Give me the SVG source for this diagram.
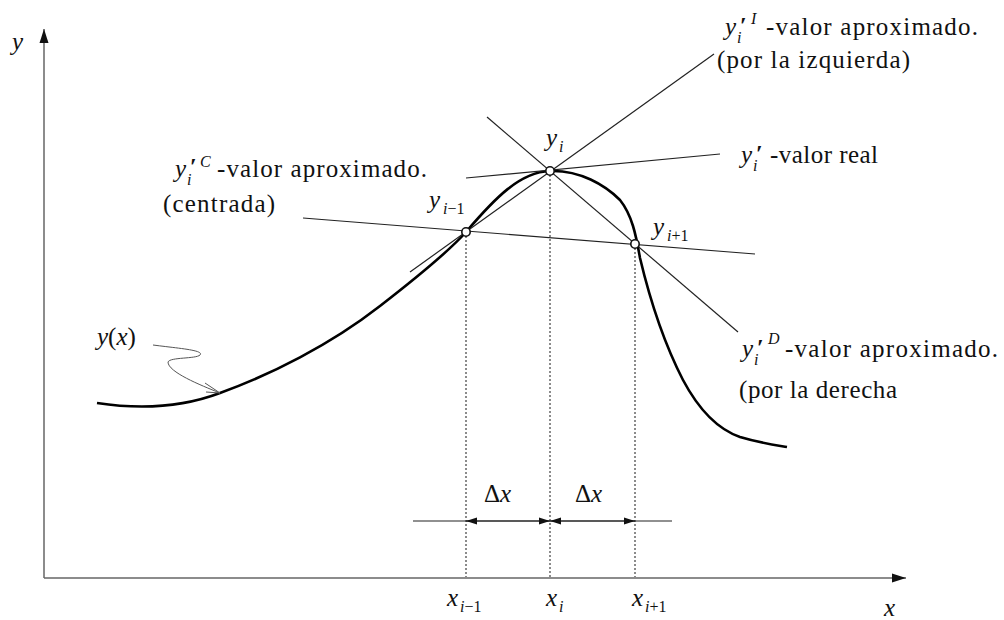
<svg xmlns="http://www.w3.org/2000/svg" width="1004" height="620" viewBox="0 0 1004 620">
<style>
.t{font-family:'Liberation Serif','DejaVu Serif',serif;font-size:25px;fill:#111}
.it{font-style:italic}
.s{font-family:'Liberation Serif','DejaVu Serif',serif;font-size:16px;fill:#111}
.sup{font-family:'Liberation Serif','DejaVu Serif',serif;font-size:16px;font-style:italic;fill:#111}
.pr{font-family:'Liberation Serif','DejaVu Serif',serif;font-size:24px;font-weight:bold;fill:#111}
.axis{stroke:#666;stroke-width:1.5;fill:none}
.tan{stroke:#222;stroke-width:1.2;fill:none}
.dot{stroke:#666;stroke-width:1.5;stroke-dasharray:2 2;fill:none}
.dim{stroke:#222;stroke-width:1.2;fill:none}
.pt{fill:#fff;stroke:#111;stroke-width:1.6}
</style>
<defs>
<marker id="ah" markerUnits="userSpaceOnUse" markerWidth="12" markerHeight="8" refX="11" refY="4" orient="auto-start-reverse"><path d="M0,0.5 L11,4 L0,7.5 z" fill="#111"/></marker>
<marker id="axh" markerUnits="userSpaceOnUse" markerWidth="14" markerHeight="10" refX="14" refY="5" orient="auto"><path d="M0,0.5 L14,5 L0,9.5 z" fill="#111"/></marker>
</defs>
<rect width="1004" height="620" fill="#fff"/>
<g id="axes">
<line class="axis" x1="44" y1="578" x2="44" y2="29" marker-end="url(#axh)"/>
<line class="axis" x1="44" y1="578" x2="906" y2="578" marker-end="url(#axh)"/>
<text class="t it" x="12" y="50">y</text>
<text class="t it" x="884" y="616">x</text>
</g>
<g id="curve">
<path d="M97,403 C130,408 175,410 220,393 C270,375 330,345 380,306 C420,275 450,250 466,232 C495,198 520,172 550,171 C580,170 605,185 620,200 C632,215 636,235 640,258 C650,300 665,345 683,380 C700,412 720,430 740,437 C760,443 775,445 787,447" fill="none" stroke="#000" stroke-width="2.6"/>
<text class="t it" x="97" y="345">y<tspan font-style="normal">(</tspan>x<tspan font-style="normal">)</tspan></text>
<path d="M153,345 C175,348 205,350 200,355 C196,359 170,357 168,362 C168,372 200,385 220,393" fill="none" stroke="#555" stroke-width="1"/>
<path d="M205,383 L220,393 L206,392" fill="none" stroke="#555" stroke-width="1"/>
</g>
<g id="connectors">
<line class="tan" x1="466" y1="178" x2="720" y2="154"/>
<line class="tan" x1="410" y1="272" x2="714" y2="54"/>
<line class="tan" x1="487" y1="117" x2="738" y2="332"/>
<line class="tan" x1="303" y1="218" x2="755" y2="254"/>
<line class="dot" x1="466" y1="236" x2="466" y2="577"/>
<line class="dot" x1="550" y1="175" x2="550" y2="577"/>
<line class="dot" x1="635" y1="248" x2="635" y2="577"/>
<line class="dim" x1="413" y1="521" x2="672" y2="521"/>
<line class="dim" x1="466" y1="521" x2="550" y2="521" marker-start="url(#ah)" marker-end="url(#ah)"/>
<line class="dim" x1="550" y1="521" x2="635" y2="521" marker-start="url(#ah)" marker-end="url(#ah)"/>
<text class="t" x="484" y="502">Δ<tspan class="it">x</tspan></text>
<text class="t" x="575" y="502">Δ<tspan class="it">x</tspan></text>
</g>
<g id="node-yim1">
<circle class="pt" cx="466" cy="232" r="4.2"/>
<text class="t it" x="429" y="208">y</text>
<text class="s" x="443" y="214"><tspan font-style="italic">i</tspan>−1</text>
<text class="t it" x="447" y="606">x</text>
<text class="s" x="460" y="612"><tspan font-style="italic">i</tspan>−1</text>
</g>
<g id="node-yi">
<circle class="pt" cx="550" cy="171" r="4.2"/>
<text class="t it" x="546" y="146">y</text>
<text class="sup" x="559" y="152">i</text>
<text class="t it" x="546" y="606">x</text>
<text class="sup" x="559" y="612">i</text>
</g>
<g id="node-yip1">
<circle class="pt" cx="635" cy="244" r="4.2"/>
<text class="t it" x="653" y="235">y</text>
<text class="s" x="667" y="241"><tspan font-style="italic">i</tspan>+1</text>
<text class="t it" x="632" y="606">x</text>
<text class="s" x="645" y="612"><tspan font-style="italic">i</tspan>+1</text>
</g>
<g id="label-izquierda">
<text class="t it" x="725" y="35">y</text>
<text class="pr" x="740" y="33">′</text>
<text class="sup" x="751" y="24">I</text>
<text class="sup" x="737" y="43">i</text>
<text class="t" x="766" y="35" textLength="212">-valor aproximado.</text>
<text class="t" x="717" y="68" textLength="193">(por la izquierda)</text>
</g>
<g id="label-real">
<text class="t it" x="741" y="163">y</text>
<text class="pr" x="756" y="161">′</text>
<text class="sup" x="753" y="171">i</text>
<text class="t" x="770" y="163" textLength="108">-valor real</text>
</g>
<g id="label-centrada">
<text class="t it" x="175" y="177">y</text>
<text class="pr" x="190" y="174">′</text>
<text class="sup" x="200" y="167">C</text>
<text class="sup" x="187" y="185">i</text>
<text class="t" x="217" y="177" textLength="210">-valor aproximado.</text>
<text class="t" x="163" y="212" textLength="112">(centrada)</text>
</g>
<g id="label-derecha">
<text class="t it" x="742" y="357">y</text>
<text class="pr" x="757" y="355">′</text>
<text class="sup" x="768" y="344">D</text>
<text class="sup" x="754" y="365">i</text>
<text class="t" x="785" y="357" textLength="213">-valor aproximado.</text>
<text class="t" x="739" y="398" textLength="158">(por la derecha</text>
</g>
</svg>
